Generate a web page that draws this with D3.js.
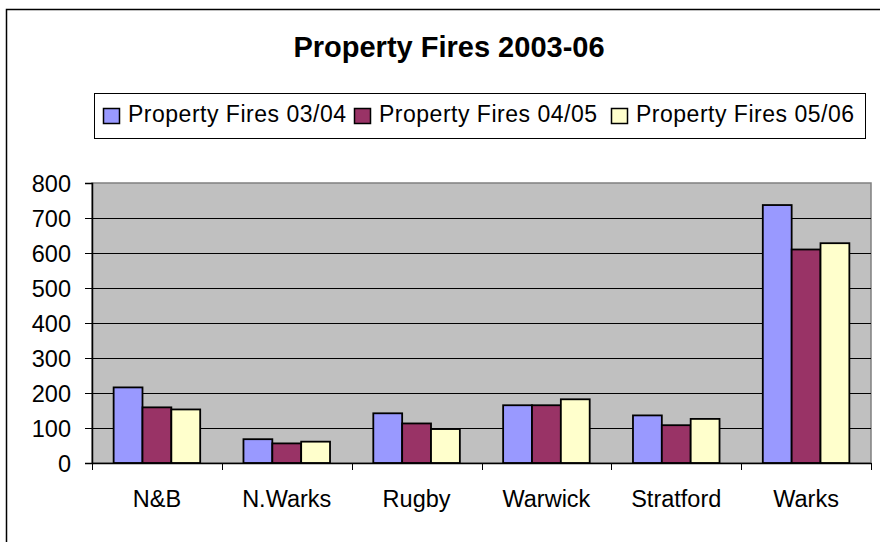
<!DOCTYPE html>
<html>
<head>
<meta charset="utf-8">
<script src="https://cdn.jsdelivr.net/npm/d3@7"></script>
<style>
  body { margin: 0; background: #fff; }
  text { font-family: "Liberation Sans", Arial, sans-serif; fill: #000; }
</style>
</head>
<body>
<svg id="chart" width="880" height="542"></svg>
<script>
const categories = ['N&B', 'N.Warks', 'Rugby', 'Warwick', 'Stratford', 'Warks'];
const seriesNames = ['Property Fires 03/04', 'Property Fires 04/05', 'Property Fires 05/06'];
const fires0304 = [216, 68, 142, 165, 136, 737];
const fires0405 = [159, 56, 113, 165, 108, 610];
const fires0506 = [153, 61, 97, 182, 126, 628];
const yTicks = [0, 100, 200, 300, 400, 500, 600, 700, 800];
const colors = ['#9999ff', '#993366', '#ffffcc'];

const series = [fires0304, fires0405, fires0506];

const svg = d3.select('#chart');

// plot area
const plotLeft = 92, plotRight = 871, plotTop = 183, plotBottom = 463;

const x = d3.scaleBand().domain(categories).range([plotLeft, plotRight]);
// gap width 150% => 3 bars take 3/4.5 of a band
const inner = d3.scaleBand()
  .domain(d3.range(series.length))
  .range([0, x.bandwidth() * 3 / 4.5]);
const xOff = (x.bandwidth() - x.bandwidth() * 3 / 4.5) / 2;

const y = d3.scaleLinear().domain([0, 800]).range([plotBottom, plotTop]);

// outer chart border
svg.append('rect')
  .attr('x', 6.5).attr('y', 9.5)
  .attr('width', 900).attr('height', 600)
  .attr('fill', 'none')
  .attr('stroke', '#000')
  .attr('stroke-width', 1.5);

// title
svg.append('text')
  .attr('x', 449).attr('y', 57)
  .attr('text-anchor', 'middle')
  .attr('font-size', '29px')
  .attr('font-weight', 'bold')
  .text('Property Fires 2003-06');

// legend
const legend = svg.append('g');
legend.append('rect')
  .attr('x', 94.5).attr('y', 93.5)
  .attr('width', 771).attr('height', 45)
  .attr('fill', '#fff')
  .attr('stroke', '#000');

const legendX = [103, 354, 611];
const items = legend.selectAll('.item')
  .data(seriesNames)
  .enter()
  .append('g')
  .attr('class', 'item')
  .attr('transform', (d, i) => `translate(${legendX[i]},0)`);
items.append('rect')
  .attr('x', 0.5).attr('y', 108.5)
  .attr('width', 16).attr('height', 15)
  .attr('fill', (d, i) => colors[i])
  .attr('stroke', '#000')
  .attr('stroke-width', 1.5);
items.append('text')
  .attr('x', 25).attr('y', 122)
  .attr('font-size', '23px')
  .attr('textLength', 218)
  .attr('lengthAdjust', 'spacing')
  .text(d => d);

// plot background
svg.append('rect')
  .attr('x', plotLeft).attr('y', plotTop)
  .attr('width', plotRight - plotLeft).attr('height', plotBottom - plotTop)
  .attr('fill', '#c0c0c0')
  .attr('stroke', '#808080')
  .attr('stroke-width', 1.5);

// gridlines
svg.append('g')
  .selectAll('line')
  .data(yTicks.filter(d => d > 0 && d < 800))
  .enter()
  .append('line')
  .attr('x1', plotLeft).attr('x2', plotRight)
  .attr('y1', d => Math.round(y(d)) + 0.5)
  .attr('y2', d => Math.round(y(d)) + 0.5)
  .attr('stroke', '#000');

// bars
const groups = svg.append('g')
  .selectAll('g')
  .data(series)
  .enter()
  .append('g')
  .attr('fill', (d, i) => colors[i]);

groups.each(function (vals, si) {
  d3.select(this)
    .selectAll('rect')
    .data(vals)
    .enter()
    .append('rect')
    .attr('x', (d, i) => x(categories[i]) + xOff + inner(si))
    .attr('y', d => y(d))
    .attr('width', inner.bandwidth())
    .attr('height', d => plotBottom - y(d))
    .attr('stroke', '#000')
    .attr('stroke-width', 1.8);
});

// y axis
const yAxis = svg.append('g')
  .attr('transform', `translate(${plotLeft},0)`)
  .call(d3.axisLeft(y).tickValues(yTicks).tickSize(7).tickPadding(14));
yAxis.select('.domain').attr('stroke', '#000').attr('stroke-width', 1.5);
yAxis.selectAll('text')
  .attr('font-size', '23.5px')
  .attr('font-family', '"Liberation Sans", Arial, sans-serif')
  .attr('dy', '0.36em');

// x axis
const xAxis = svg.append('g')
  .attr('transform', `translate(0,${plotBottom})`)
  .call(d3.axisBottom(x).tickSize(0).tickPadding(27));
xAxis.select('.domain').attr('stroke', '#000').attr('stroke-width', 1.5);
xAxis.selectAll('text')
  .attr('font-size', '23.5px')
  .attr('font-family', '"Liberation Sans", Arial, sans-serif');

// category separator ticks
svg.append('g')
  .selectAll('line')
  .data(categories.map(c => x(c)).concat([plotRight]))
  .enter()
  .append('line')
  .attr('x1', d => Math.round(d) + 0.5).attr('x2', d => Math.round(d) + 0.5)
  .attr('y1', plotBottom).attr('y2', plotBottom + 7)
  .attr('stroke', '#000');
</script>
</body>
</html>
